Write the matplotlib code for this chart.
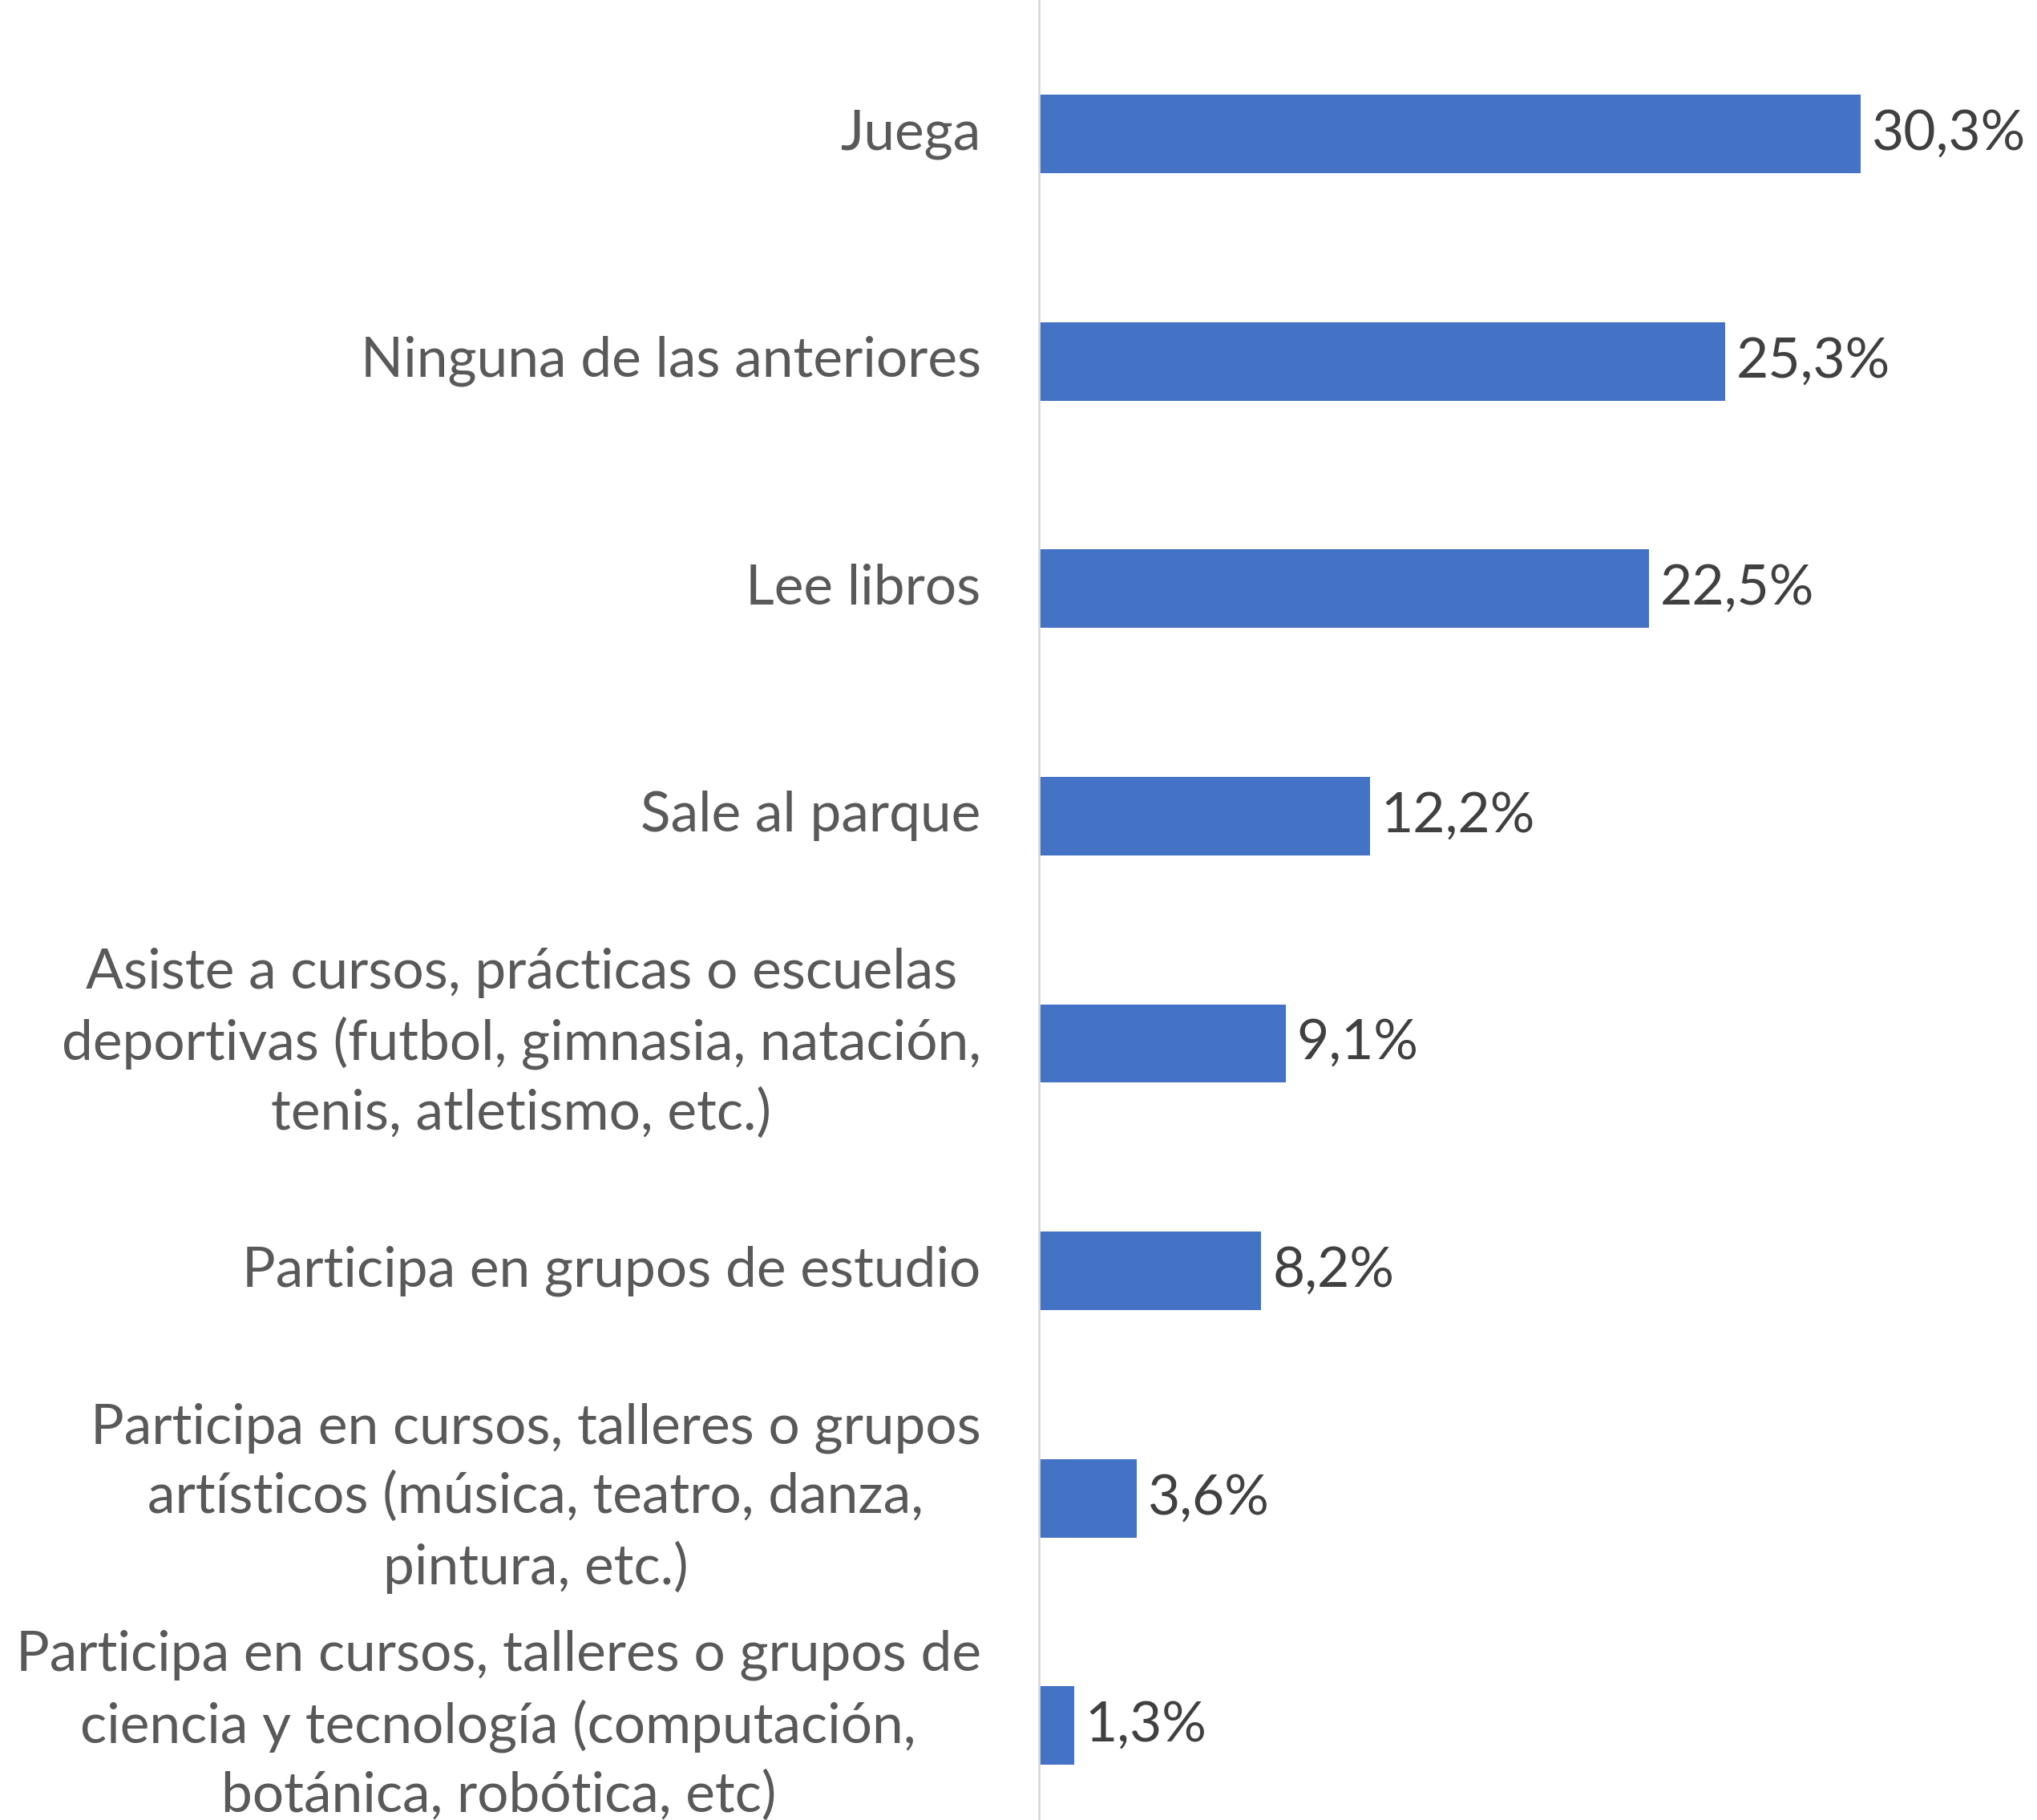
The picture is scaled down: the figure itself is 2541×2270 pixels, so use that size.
import matplotlib.pyplot as plt

# data
categories = [
    "Juega",
    "Ninguna de las anteriores",
    "Lee libros",
    "Sale al parque",
    "Asiste a cursos, prácticas o escuelas\ndeportivas (futbol, gimnasia, natación,\ntenis, atletismo, etc.)",
    "Participa en grupos de estudio",
    "Participa en cursos, talleres o grupos\nartísticos (música, teatro, danza,\npintura, etc.)",
    "Participa en cursos, talleres o grupos de\nciencia y tecnología (computación,\nbotánica, robótica, etc)",
]
values = [30.3, 25.3, 22.5, 12.2, 9.1, 8.2, 3.6, 1.3]
value_labels = ["30,3%", "25,3%", "22,5%", "12,2%", "9,1%", "8,2%", "3,6%", "1,3%"]

plt.rcParams['font.family'] = ['Lato', 'DejaVu Sans']

fig = plt.figure(figsize=(25.41, 22.70), dpi=100)
ax = fig.add_axes([0.510, 0.0, 0.490, 1.0])

pos = list(range(len(categories)))
ax.barh(pos, values, height=0.345, color='#4472C4')

for p, v, lab in zip(pos, values, value_labels):
    ax.annotate(lab, (v, p), xytext=(10, 0), textcoords='offset points',
                va='center', ha='left', fontsize=50, color='#404040')

# category labels: block right-aligned next to the axis, lines centred
for p, cat in zip(pos, categories):
    ax.text(-0.058, p, cat, transform=ax.get_yaxis_transform(),
            ha='right', va='center', multialignment='center',
            fontsize=50, color='#595959', linespacing=1.42)

ax.set_xlim(0, 36.8)
ax.set_ylim(7.415, -0.589)
ax.set_yticks([])
ax.set_xticks([])

for s in ['top', 'right', 'bottom']:
    ax.spines[s].set_visible(False)
ax.spines['left'].set_color('#D9D9D9')
ax.spines['left'].set_linewidth(2)

fig.savefig('out.png', dpi=100, facecolor='white')
